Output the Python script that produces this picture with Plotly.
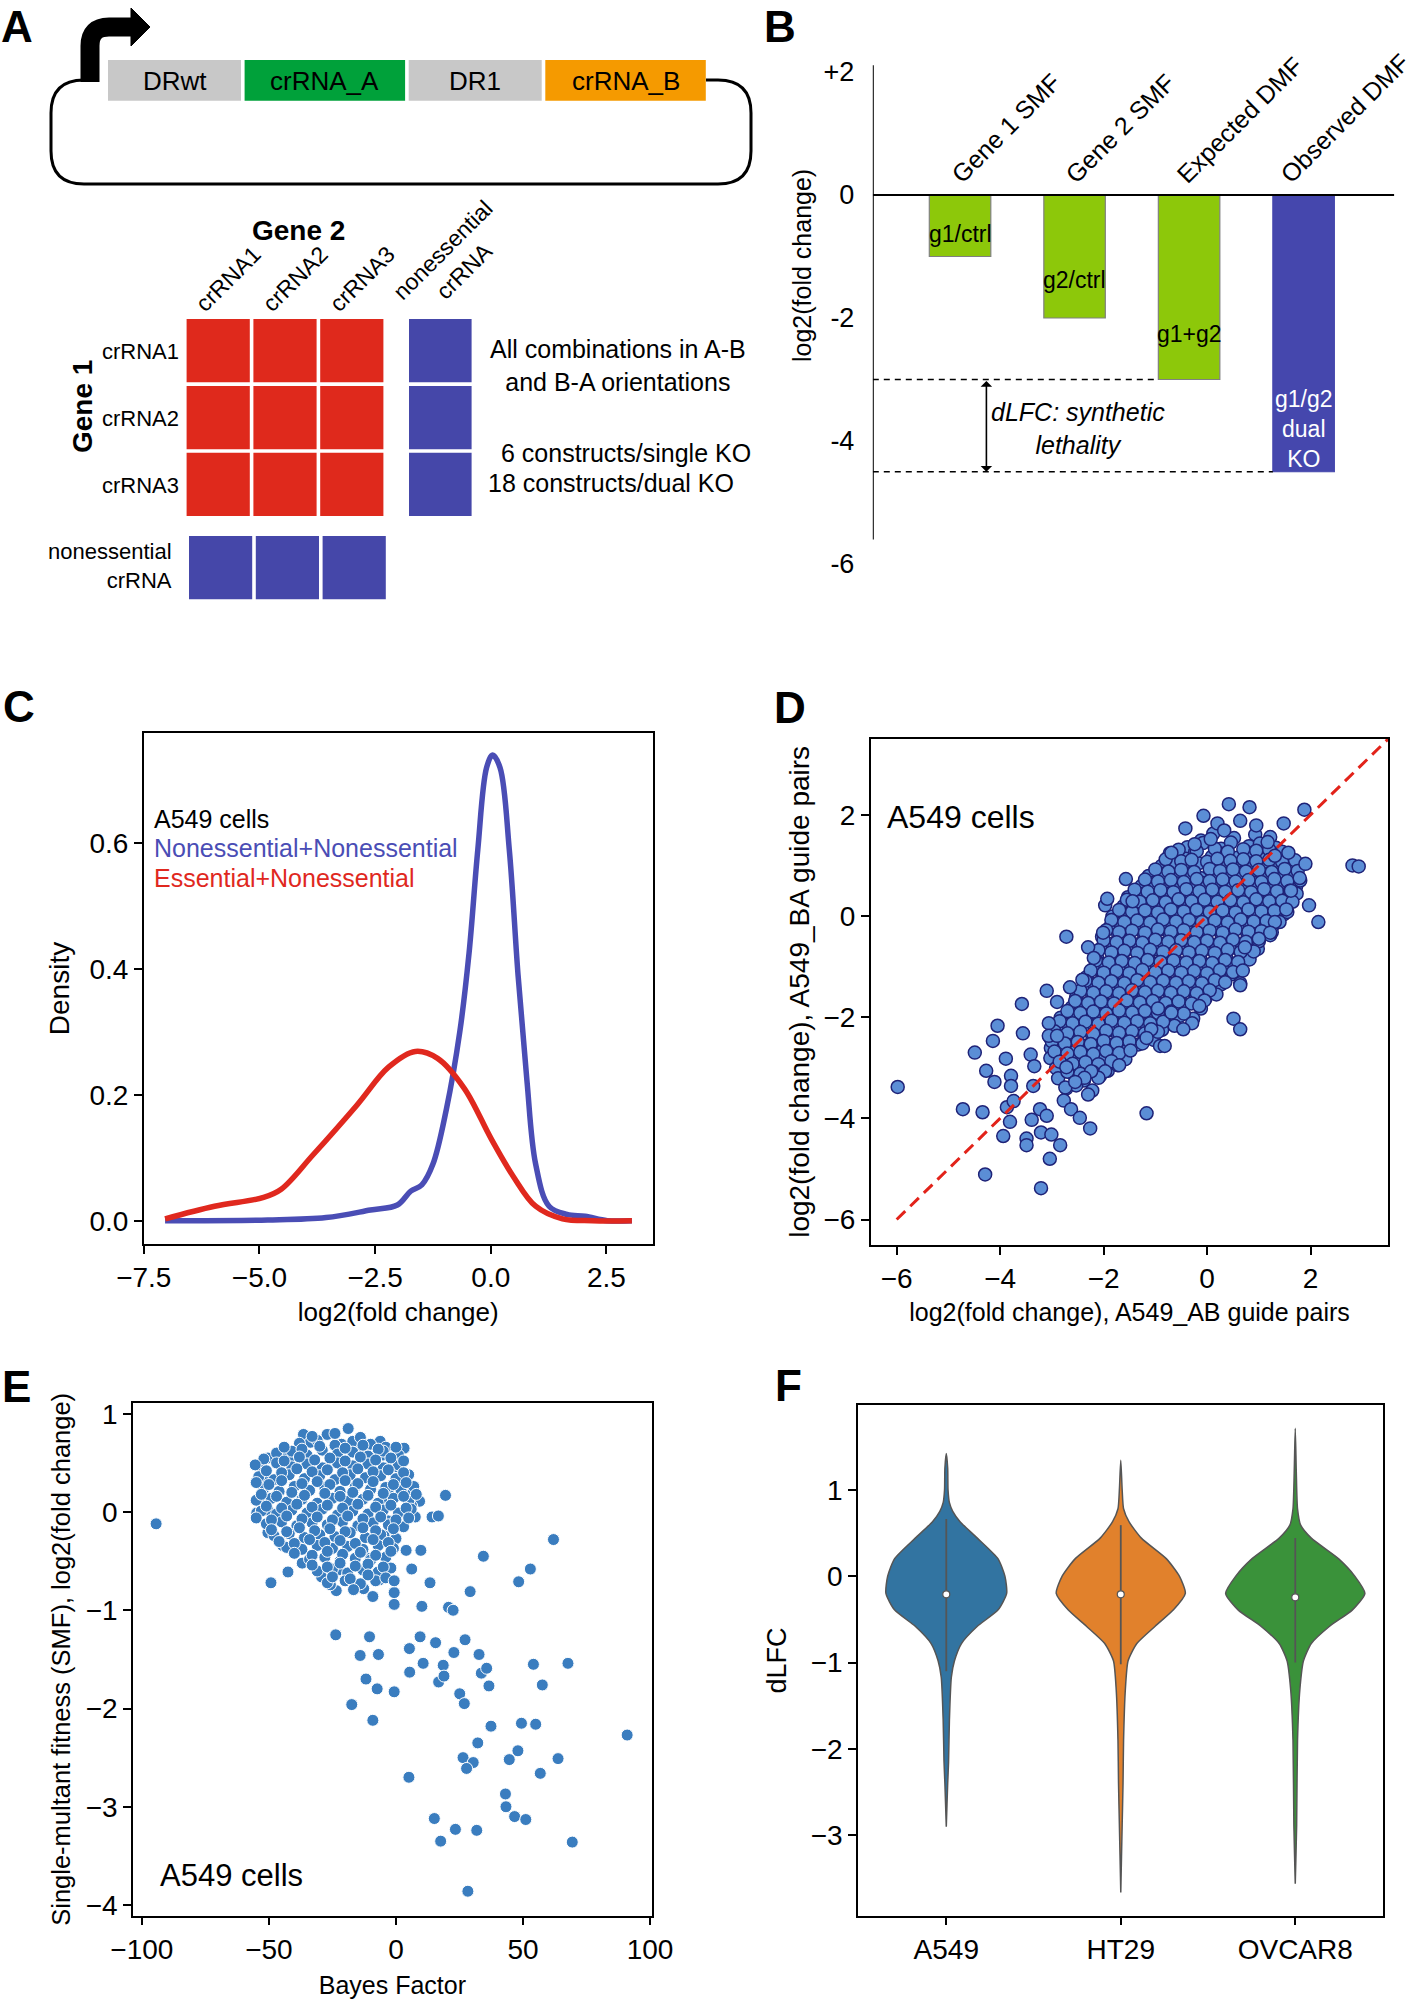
import plotly.graph_objects as go

W, H = 1418, 2001
FONT = "Liberation Sans"


def fx(p):
    return p / W


def fy(p):
    return 1 - p / H


# ---------------- data: panel A (schematic labels) ----------------
a_construct = ["DRwt", "crRNA_A", "DR1", "crRNA_B"]
a_construct_colors = ["#c8c8c8", "#00a13a", "#c8c8c8", "#f59a00"]
a_guides = ["crRNA1", "crRNA2", "crRNA3"]
a_ctrl = "nonessential<br>crRNA"

# ---------------- data: panel B ----------------
b_categories = ["Gene 1 SMF", "Gene 2 SMF", "Expected DMF", "Observed DMF"]
b_values = [-1.0, -2.0, -3.0, -4.5]
b_inner_labels = ["g1/ctrl", "g2/ctrl", "g1+g2", "g1/g2<br>dual<br>KO"]
b_tickvals = [2, 0, -2, -4, -6]
b_ticktext = ["+2", "0", "-2", "-4", "-6"]

# ---------------- data: panel C (density curves) ----------------
c_non_x = [-7.04, -4.82, -3.56, -2.6, -2.02, -1.73, -1.49, -1.25, -0.96, -0.67, -0.47, -0.28,
           -0.09, 0.04, 0.2, 0.40, 0.59, 0.78, 0.97, 1.26, 1.65, 2.04, 2.52, 3.05]
c_non_y = [0.0, 0.001, 0.005, 0.017, 0.025, 0.047, 0.057, 0.09, 0.177, 0.30, 0.425, 0.59,
           0.72, 0.74, 0.72, 0.59, 0.39, 0.224, 0.09, 0.023, 0.01, 0.007, 0.0, 0.0]
c_ess_x = [-7.04, -5.97, -4.91, -4.53, -3.85, -2.89, -2.21, -1.63, -1.15, -0.57, 0.01, 0.49,
           0.97, 1.55, 2.2, 3.05]
c_ess_y = [0.003, 0.023, 0.037, 0.05, 0.104, 0.184, 0.244, 0.269, 0.258, 0.21, 0.13, 0.07,
           0.023, 0.003, 0.0, 0.0]

# ---------------- data: panel D (AB vs BA guide pairs) ----------------
d_core_x = [0.12, 0.52, 0.93, -0.12, 1.22,
            -0.38, -0.08, 0.27, 0.46, 0.81, 1.02, 1.33,
            -0.72, -0.41, -0.23, 0.09, 0.28, 0.58, 0.77, 1.09, 1.27, 1.58,
            -0.88, -0.69, -0.37, -0.17, 0.14, 0.31, 0.63, 0.82, 1.13, 1.31, 1.63, 1.78,
            -1.13, -0.81, -0.63, -0.31, -0.13, 0.19, 0.37, 0.69, 0.87, 1.18, 1.36, 1.67,
            -1.27, -1.08, -0.77, -0.58, -0.26, -0.08, 0.23, 0.42, 0.73, 0.91, 1.23, 1.41, 1.72,
            -1.53, -1.22, -1.03, -0.71, -0.53, -0.22, -0.03, 0.28, 0.47, 0.78, 0.97, 1.28, 1.47, 1.73,
            -1.62, -1.43, -1.12, -0.93, -0.62, -0.43, -0.12, 0.07, 0.38, 0.57, 0.88, 1.07, 1.38, 1.52,
            -1.83, -1.52, -1.33, -1.02, -0.83, -0.52, -0.33, -0.02, 0.17, 0.48, 0.67, 0.98, 1.17, 1.48,
            -1.87, -1.68, -1.37, -1.18, -0.87, -0.68, -0.37, -0.18, 0.13, 0.32, 0.63, 0.82, 1.13, 1.27,
            -2.03, -1.72, -1.53, -1.22, -1.03, -0.72, -0.53, -0.22, -0.03, 0.28, 0.47, 0.78, 0.97, 1.22,
            -2.02, -1.83, -1.52, -1.33, -1.02, -0.83, -0.52, -0.33, -0.02, 0.17, 0.48, 0.67, 0.98,
            -2.13, -1.82, -1.63, -1.32, -1.13, -0.82, -0.63, -0.32, -0.13, 0.18, 0.37, 0.68, 0.82,
            -2.17, -1.98, -1.67, -1.48, -1.17, -0.98, -0.67, -0.48, -0.17, 0.02, 0.33, 0.52,
            -2.33, -2.02, -1.83, -1.52, -1.33, -1.02, -0.83, -0.52, -0.33, -0.02, 0.17, 0.48,
            -2.37, -2.18, -1.87, -1.68, -1.37, -1.18, -0.87, -0.68, -0.37, -0.18, 0.13, 0.27,
            -2.53, -2.22, -2.03, -1.72, -1.53, -1.22, -1.03, -0.72, -0.53, -0.22, -0.03, 0.18,
            -2.62, -2.43, -2.12, -1.93, -1.62, -1.43, -1.12, -0.93, -0.62, -0.43, -0.12,
            -2.83, -2.52, -2.33, -2.02, -1.83, -1.52, -1.33, -1.02, -0.83, -0.52, -0.27,
            -2.87, -2.68, -2.37, -2.18, -1.87, -1.68, -1.37, -1.18, -0.87, -0.63,
            -3.03, -2.72, -2.53, -2.22, -2.03, -1.72, -1.53, -1.22, -1.03,
            -3.02, -2.83, -2.52, -2.33, -2.02, -1.83, -1.52, -1.33,
            -3.03, -2.72, -2.53, -2.22, -2.03, -1.72, -1.58,
            -2.92, -2.73, -2.42, -2.23, -1.92, -1.73,
            -2.88, -2.57, -2.38, -2.07,
            -2.72, -2.53, -2.22]
d_core_y = [1.63, 1.54, 1.61, 1.49, 1.56,
            1.36, 1.44, 1.33, 1.45, 1.38, 1.43, 1.35,
            1.24, 1.13, 1.27, 1.17, 1.23, 1.15, 1.26, 1.19, 1.21, 1.12,
            0.99, 1.05, 0.93, 1.04, 0.96, 1.06, 0.94, 1.03, 0.97, 1.05, 0.95, 1.01,
            0.79, 0.84, 0.74, 0.85, 0.75, 0.83, 0.74, 0.86, 0.77, 0.83, 0.75, 0.81,
            0.59, 0.65, 0.54, 0.64, 0.55, 0.65, 0.55, 0.63, 0.56, 0.65, 0.54, 0.62, 0.58,
            0.37, 0.44, 0.35, 0.45, 0.34, 0.43, 0.37, 0.45, 0.35, 0.42, 0.34, 0.44, 0.36, 0.44,
            0.19, 0.24, 0.15, 0.25, 0.14, 0.22, 0.15, 0.25, 0.17, 0.24, 0.14, 0.22, 0.16, 0.25,
            -0.01, 0.05, -0.06, 0.03, -0.05, 0.06, -0.03, 0.05, -0.06, 0.03, -0.04, 0.05, -0.01, 0.03,
            -0.21, -0.15, -0.25, -0.16, -0.26, -0.15, -0.23, -0.14, -0.25, -0.17, -0.23, -0.15, -0.25, -0.19,
            -0.41, -0.35, -0.45, -0.36, -0.46, -0.35, -0.43, -0.34, -0.45, -0.37, -0.43, -0.35, -0.45, -0.38,
            -0.61, -0.55, -0.65, -0.56, -0.66, -0.55, -0.63, -0.54, -0.65, -0.57, -0.63, -0.55, -0.65,
            -0.81, -0.75, -0.85, -0.76, -0.86, -0.75, -0.83, -0.74, -0.85, -0.77, -0.83, -0.75, -0.86,
            -1.01, -0.95, -1.05, -0.96, -1.06, -0.95, -1.03, -0.94, -1.05, -0.97, -1.03, -0.95,
            -1.21, -1.15, -1.25, -1.16, -1.26, -1.15, -1.23, -1.14, -1.25, -1.17, -1.23, -1.15,
            -1.41, -1.35, -1.45, -1.36, -1.46, -1.35, -1.43, -1.34, -1.45, -1.37, -1.43, -1.35,
            -1.61, -1.55, -1.65, -1.56, -1.66, -1.55, -1.63, -1.54, -1.65, -1.57, -1.63, -1.55,
            -1.81, -1.75, -1.85, -1.76, -1.86, -1.75, -1.83, -1.74, -1.85, -1.77, -1.83,
            -2.01, -1.95, -2.05, -1.96, -2.06, -1.95, -2.03, -1.94, -2.05, -1.97, -2.03,
            -2.21, -2.15, -2.25, -2.16, -2.26, -2.15, -2.23, -2.14, -2.25, -2.17,
            -2.41, -2.35, -2.45, -2.36, -2.46, -2.35, -2.43, -2.34, -2.45,
            -2.61, -2.55, -2.65, -2.56, -2.66, -2.55, -2.63, -2.54,
            -2.81, -2.75, -2.85, -2.76, -2.86, -2.75, -2.83,
            -3.01, -2.95, -3.05, -2.96, -3.06, -2.95,
            -3.21, -3.15, -3.25, -3.16,
            -3.41, -3.35, -3.45]
d_fill_x = [-0.55, -0.2, 0.15, 0.4, 0.7, 0.95, 1.2, 1.45,
            -0.8, -0.5, -0.3, 0.0, 0.2, 0.45, 0.7, 0.95, 1.2, 1.45, 1.7,
            -1.0, -0.75, -0.5, -0.25, 0.05, 0.25, 0.5, 0.75, 1.0, 1.25, 1.5, 1.75,
            -1.2, -0.95, -0.7, -0.45, -0.2, 0.05, 0.3, 0.55, 0.8, 1.05, 1.3, 1.55, 1.8,
            -1.4, -1.15, -0.9, -0.65, -0.4, -0.15, 0.1, 0.35, 0.6, 0.85, 1.1, 1.35, 1.6,
            -1.55, -1.3, -1.05, -0.8, -0.55, -0.3, -0.05, 0.2, 0.45, 0.7, 0.95, 1.2, 1.45, 1.65,
            -1.7, -1.45, -1.2, -0.95, -0.7, -0.45, -0.2, 0.05, 0.3, 0.55, 0.8, 1.05, 1.3, 1.55,
            -1.85, -1.6, -1.35, -1.1, -0.85, -0.6, -0.35, -0.1, 0.15, 0.4, 0.65, 0.9, 1.15, 1.4,
            -1.95, -1.7, -1.45, -1.2, -0.95, -0.7, -0.45, -0.2, 0.05, 0.3, 0.55, 0.8, 1.05, 1.25,
            -2.0, -1.75, -1.5, -1.25, -1.0, -0.75, -0.5, -0.25, 0.0, 0.25, 0.5, 0.75, 1.0,
            -2.1, -1.85, -1.6, -1.35, -1.1, -0.85, -0.6, -0.35, -0.1, 0.15, 0.4, 0.65, 0.9,
            -2.15, -1.9, -1.65, -1.4, -1.15, -0.9, -0.65, -0.4, -0.15, 0.1, 0.35, 0.6,
            -2.25, -2.0, -1.75, -1.5, -1.25, -1.0, -0.75, -0.5, -0.25, 0.0, 0.25, 0.5,
            -2.35, -2.1, -1.85, -1.6, -1.35, -1.1, -0.85, -0.6, -0.35, -0.1, 0.15, 0.35,
            -2.45, -2.2, -1.95, -1.7, -1.45, -1.2, -0.95, -0.7, -0.45, -0.2, 0.05,
            -2.55, -2.3, -2.05, -1.8, -1.55, -1.3, -1.05, -0.8, -0.55, -0.3, -0.05,
            -2.7, -2.45, -2.2, -1.95, -1.7, -1.45, -1.2, -0.95, -0.7, -0.45,
            -2.85, -2.6, -2.35, -2.1, -1.85, -1.6, -1.35, -1.1, -0.85,
            -2.95, -2.7, -2.45, -2.2, -1.95, -1.7, -1.45, -1.2, -0.95,
            -3.0, -2.75, -2.5, -2.25, -2.0, -1.75, -1.5, -1.25,
            -2.95, -2.7, -2.45, -2.2, -1.95, -1.7,
            -2.85, -2.6, -2.35, -2.1, -1.85,
            -2.7, -2.45, -2.2]
d_fill_y = [1.31, 1.28, 1.33, 1.27, 1.32, 1.29, 1.31, 1.27,
            1.12, 1.08, 1.11, 1.07, 1.13, 1.09, 1.12, 1.08, 1.11, 1.07, 1.10,
            0.92, 0.88, 0.91, 0.87, 0.93, 0.89, 0.92, 0.88, 0.91, 0.87, 0.93, 0.89,
            0.72, 0.68, 0.71, 0.67, 0.73, 0.69, 0.72, 0.68, 0.71, 0.67, 0.73, 0.69, 0.70,
            0.52, 0.48, 0.51, 0.47, 0.53, 0.49, 0.52, 0.48, 0.51, 0.47, 0.53, 0.49, 0.50,
            0.32, 0.28, 0.31, 0.27, 0.33, 0.29, 0.32, 0.28, 0.31, 0.27, 0.33, 0.29, 0.30, 0.28,
            0.12, 0.08, 0.11, 0.07, 0.13, 0.09, 0.12, 0.08, 0.11, 0.07, 0.13, 0.09, 0.10, 0.08,
            -0.08, -0.12, -0.09, -0.13, -0.07, -0.11, -0.08, -0.12, -0.09, -0.13, -0.07, -0.11, -0.10, -0.12,
            -0.28, -0.32, -0.29, -0.33, -0.27, -0.31, -0.28, -0.32, -0.29, -0.33, -0.27, -0.31, -0.30, -0.32,
            -0.48, -0.52, -0.49, -0.53, -0.47, -0.51, -0.48, -0.52, -0.49, -0.53, -0.47, -0.51, -0.50,
            -0.68, -0.72, -0.69, -0.73, -0.67, -0.71, -0.68, -0.72, -0.69, -0.73, -0.67, -0.71, -0.70,
            -0.88, -0.92, -0.89, -0.93, -0.87, -0.91, -0.88, -0.92, -0.89, -0.93, -0.87, -0.91,
            -1.08, -1.12, -1.09, -1.13, -1.07, -1.11, -1.08, -1.12, -1.09, -1.13, -1.07, -1.11,
            -1.28, -1.32, -1.29, -1.33, -1.27, -1.31, -1.28, -1.32, -1.29, -1.33, -1.27, -1.31,
            -1.48, -1.52, -1.49, -1.53, -1.47, -1.51, -1.48, -1.52, -1.49, -1.53, -1.47,
            -1.68, -1.72, -1.69, -1.73, -1.67, -1.71, -1.68, -1.72, -1.69, -1.73, -1.67,
            -1.88, -1.92, -1.89, -1.93, -1.87, -1.91, -1.88, -1.92, -1.89, -1.93,
            -2.08, -2.12, -2.09, -2.13, -2.07, -2.11, -2.08, -2.12, -2.09,
            -2.28, -2.32, -2.29, -2.33, -2.27, -2.31, -2.28, -2.32, -2.29,
            -2.48, -2.52, -2.49, -2.53, -2.47, -2.51, -2.48, -2.52,
            -2.68, -2.72, -2.69, -2.73, -2.67, -2.71,
            -2.88, -2.92, -2.89, -2.93, -2.87,
            -3.08, -3.12, -3.09]
d_out_x = [-5.98, -4.72, -4.34, -4.29, -3.21, -4.49, -4.27, -4.11, -4.05, -4.14,
           -3.89, -3.79, -3.79, -3.87, -3.74, -3.81, -3.94, -3.49, -3.49, -3.39,
           -3.23, -3.10, -3.21, -3.01, -3.04, -2.84, -3.58, -3.56, -3.41, -3.34,
           -3.36, -3.10, -2.90, -3.06, -3.06, -2.90, -2.72, -2.65, -2.41, -2.30,
           -2.19, -2.01, -1.97, -1.93, -1.57, -1.44, -2.72, -2.74, -2.77, -2.63,
           -2.46, -2.26, -2.30, -1.17, -0.91, -0.82, 0.51, 0.64, 0.64, -0.07,
           0.42, 0.82, 1.88, 1.48, -0.42, 0.20, 0.64, 0.95, 0.33, 2.81,
           2.93, 1.90, 1.97, 2.15, -0.24, -0.69, 0.07, 1.17, 1.31, 1.57,
           1.79, 1.62, 1.53, 1.31, 1.22, 1.00, 0.73, 0.69, 0.64, -0.29,
           -0.46, -0.15, -0.69, -0.95, -1.08, -1.17, -1.48, -1.70, -1.97, -2.10,
           -2.24, -2.37, -2.55]
d_out_y = [-3.38, -3.82, -3.88, -5.11, -5.38, -2.70, -3.06, -3.28, -2.17, -2.47,
           -2.82, -3.16, -3.36, -3.78, -3.66, -4.07, -4.35, -4.40, -4.53, -4.03,
           -3.82, -3.95, -4.28, -4.32, -4.80, -4.53, -1.74, -2.32, -2.74, -2.97,
           -3.36, -1.48, -1.70, -2.12, -2.37, -2.37, -0.41, -1.41, -1.26, -0.62,
           -0.83, -0.33, 0.21, 0.34, 0.73, 0.29, -2.99, -3.39, -3.65, -3.82,
           -3.99, -4.20, -3.53, -3.90, -2.57, -2.57, -2.03, -2.24, -1.33, 1.98,
           2.21, 2.15, 2.10, 1.83, 1.73, 1.83, 1.88, 1.79, 1.69, 1.00,
           0.98, 1.03, 0.21, -0.12, 1.42, 1.25, 1.52, 1.46, 1.19, 1.25,
           0.75, 0.50, 0.13, -0.12, -0.33, -0.45, -0.62, -1.08, -1.37, -2.12,
           -2.24, -1.78, -1.91, -1.83, -2.24, -2.41, -2.66, -2.95, -3.07, -3.20,
           -3.07, -3.20, -3.28]
d_identity = [-6.0, 3.5]

# ---------------- data: panel E (Bayes factor vs SMF) ----------------
e_out_x = [-94.4, -49.2, -42.5, -55.4, 19.5, 14.2, 16.7, 4.0, 9.8, 6.2,
           13.4, 62.0, 34.4, 52.9, 48.3, 29.2, 10.2, 20.7, 22.5, -0.7,
           -0.7, -0.7, -9.1, -16.7, -23.7, -10.4, -14.1, -6.9, -11.8, -7.4,
           -17.4, -9.1, -0.7, 5.3, 5.4, 9.5, 10.7, 15.6, 18.6, 16.8,
           18.9, 22.8, 27.2, 25.1, 26.9, 32.7, 33.6, 35.7, 36.6, 37.4,
           32.2, 49.4, 55.0, 54.1, 57.6, 67.7, 91.0, 48.0, 44.6, 26.4,
           30.4, 27.8, 56.8, 63.8, 5.1, 43.1, 43.3, 46.7, 51.1, 15.1,
           23.4, 31.8, 17.6, 69.4, 28.3]
e_out_y = [-0.12, -0.72, -0.61, 0.48, 0.17, -0.05, -0.04, -0.39, -0.39, -0.58,
           -0.72, -0.28, -0.45, -0.58, -0.71, -0.81, -0.96, -0.97, -1.00, -0.94,
           -0.82, -0.70, -0.86, -0.79, -1.25, -1.27, -1.46, -1.45, -1.70, -1.80,
           -1.96, -2.12, -1.83, -1.39, -1.63, -1.27, -1.54, -1.33, -1.56, -1.73,
           -1.67, -1.43, -1.30, -1.85, -1.95, -1.45, -1.64, -1.59, -1.77, -2.18,
           -2.35, -2.15, -2.16, -1.55, -1.76, -1.54, -2.27, -2.43, -2.52, -2.50,
           -2.55, -2.61, -2.66, -2.51, -2.70, -2.87, -3.00, -3.10, -3.13, -3.12,
           -3.23, -3.24, -3.35, -3.36, -3.86]
e_clu_x = [-36.4, -27.1, -18.8, -6.2, 3.2, -33.7, -21.4, -14.4, -50.4, -43.4,
           -40.4, -5.1, 0.5, 2.6, -54.8, -50.4, -52.6, -50.8, -50.4, -44.6,
           -37.6, -36.9, -29.3, -22.8, -23.5, -25.8, -12.7, -6.5, -10.1, -4.7,
           6.7, 9.3, 7.6, 6.2, -3.0, -2.5, -3.9,
           -38, -31, -24, -17, -10, -4,
           -47, -41, -35, -29, -23, -17, -11, -5, 1,
           -53, -47, -41, -35, -29, -23, -17, -11, -5, 1,
           -54, -48, -42, -36, -30, -24, -18, -12, -6, 0, 5,
           -52, -46, -40, -34, -28, -22, -16, -10, -4, 2, 7,
           -55, -49, -43, -37, -31, -25, -19, -13, -7, -1, 5,
           -53, -47, -41, -35, -29, -23, -17, -11, -5, 1, 6,
           -51, -45, -39, -33, -27, -21, -15, -9, -3, 3,
           -48, -42, -36, -30, -24, -18, -12, -6, 0,
           -43, -37, -31, -25, -19, -13, -7, -1,
           -34, -28, -22, -16, -10, -4,
           -31, -25, -19, -13, -7, -2,
           -27, -20, -14, -8,
           -33, -24, -14,
           -44, -37, -30, -20, -13, -7, 0,
           -52, -44, -38, -32, -26, -20, -14, -8, -2, 3,
           -51, -45, -39, -33, -27, -21, -15, -9, -3, 3,
           -55, -50, -45, -37, -31, -26, -20, -15, -9, -1, 4,
           -53, -47, -41, -36, -28, -22, -17, -11, -5, 3, 8,
           -51, -45, -39, -33, -27, -21, -15, -8, -2, 4,
           -55, -49, -43, -37, -31, -25, -19, -13, -6, 0, 5,
           -49, -43, -38, -32, -26, -20, -13, -8, -1,
           -46, -40, -34, -28, -22, -16, -9, -3,
           -40, -33, -27, -21, -14, -8, -2,
           -33, -27, -22, -16, -11, -5,
           -25, -18, -11, -4]
e_clu_y = [0.79, 0.79, 0.85, 0.72, 0.65, 0.71, 0.69, 0.64, 0.55, 0.55,
           0.57, 0.58, 0.46, 0.51, -0.01, 0.02, 0.10, 0.33, -0.21, -0.34,
           -0.31, -0.52, -0.66, -0.59, -0.80, -0.74, -0.78, -0.69, -0.47, -0.24,
           0.21, 0.11, -0.05, 0.06, -0.09, 0.25, 0.14,
           0.70, 0.73, 0.68, 0.72, 0.69, 0.66,
           0.60, 0.62, 0.58, 0.63, 0.59, 0.61, 0.57, 0.62, 0.58,
           0.47, 0.50, 0.46, 0.49, 0.45, 0.50, 0.47, 0.49, 0.45, 0.48,
           0.36, 0.33, 0.38, 0.34, 0.37, 0.33, 0.38, 0.35, 0.37, 0.34, 0.38,
           0.24, 0.21, 0.26, 0.22, 0.25, 0.21, 0.26, 0.23, 0.25, 0.22, 0.26,
           0.12, 0.14, 0.10, 0.13, 0.09, 0.14, 0.11, 0.13, 0.09, 0.14, 0.11,
           0.01, -0.02, 0.02, -0.01, 0.03, -0.03, 0.01, -0.02, 0.02, -0.01, 0.03,
           -0.12, -0.10, -0.14, -0.11, -0.13, -0.10, -0.14, -0.11, -0.13, -0.15,
           -0.24, -0.22, -0.26, -0.23, -0.25, -0.21, -0.26, -0.23, -0.27,
           -0.36, -0.38, -0.34, -0.37, -0.35, -0.38, -0.34, -0.37,
           -0.48, -0.46, -0.50, -0.47, -0.49, -0.46,
           -0.60, -0.58, -0.62, -0.59, -0.61, -0.57,
           -0.72, -0.70, -0.73, -0.70,
           0.77, 0.80, 0.76,
           0.66, 0.64, 0.67, 0.65, 0.68, 0.64, 0.66,
           0.54, 0.52, 0.56, 0.53, 0.55, 0.52, 0.56, 0.53, 0.55, 0.52,
           0.42, 0.40, 0.44, 0.41, 0.43, 0.40, 0.44, 0.41, 0.43, 0.40,
           0.30, 0.28, 0.32, 0.29, 0.31, 0.28, 0.32, 0.29, 0.31, 0.28, 0.30,
           0.18, 0.16, 0.20, 0.17, 0.19, 0.16, 0.20, 0.17, 0.19, 0.16, 0.18,
           0.06, 0.04, 0.08, 0.05, 0.07, 0.04, 0.08, 0.05, 0.07, 0.04,
           -0.06, -0.08, -0.04, -0.07, -0.05, -0.08, -0.04, -0.07, -0.05, -0.08, -0.06,
           -0.18, -0.20, -0.16, -0.19, -0.17, -0.20, -0.16, -0.19, -0.17,
           -0.30, -0.32, -0.28, -0.31, -0.29, -0.32, -0.28, -0.31,
           -0.42, -0.44, -0.40, -0.43, -0.41, -0.44, -0.40,
           -0.54, -0.56, -0.52, -0.55, -0.53, -0.56,
           -0.66, -0.68, -0.64, -0.67]

# ---------------- data: panel F (violins, profile) ----------------
f_lines = ["A549", "HT29", "OVCAR8"]
f_colors = ["#3274a1", "#e1812c", "#3a923a"]
f_prof_y = [
    [1.42, 1.25, 1.0, 0.85, 0.75, 0.63, 0.44, 0.2, 0.0, -0.2, -0.39, -0.58, -0.78, -0.98, -1.17, -1.66, -2.15, -2.4, -2.9],
    [1.34, 1.0, 0.78, 0.63, 0.44, 0.2, 0.0, -0.2, -0.39, -0.58, -0.78, -0.98, -1.32, -1.9, -2.39, -2.88, -3.66],
    [1.71, 1.2, 0.78, 0.59, 0.44, 0.2, 0.0, -0.2, -0.39, -0.58, -0.78, -0.98, -1.32, -1.9, -2.88, -3.56],
]
f_prof_w = [
    [0.0, 0.008, 0.010, 0.018, 0.037, 0.079, 0.178, 0.297, 0.336, 0.346, 0.297, 0.178, 0.087, 0.047, 0.029, 0.018, 0.013, 0.008, 0.0],
    [0.0, 0.008, 0.016, 0.047, 0.118, 0.262, 0.336, 0.370, 0.302, 0.197, 0.092, 0.042, 0.026, 0.016, 0.013, 0.008, 0.0],
    [0.0, 0.006, 0.013, 0.031, 0.092, 0.249, 0.341, 0.399, 0.328, 0.197, 0.092, 0.047, 0.026, 0.013, 0.008, 0.0],
]
f_median = [-0.21, -0.21, -0.245]
f_whisk_hi = [0.66, 0.59, 0.44]
f_whisk_lo = [-1.10, -1.02, -1.00]

# =====================================================================
fig = go.Figure()
annotations = []
shapes = []


def ann(text, x, y, size=24, xanchor="center", yanchor="middle", angle=0, color="black",
        align="center", xref="paper", yref="paper", **kw):
    if xref == "paper":
        x = fx(x)
    if yref == "paper":
        y = fy(y)
    annotations.append(dict(text=text, x=x, y=y, xref=xref, yref=yref, showarrow=False,
                            xanchor=xanchor, yanchor=yanchor, textangle=angle, align=align,
                            font=dict(size=size, color=color, family=FONT), **kw))


def P(x, y):
    return f"{fx(x):.5f},{fy(y):.5f}"


# ---------------- panel letters ----------------
for letter, lx, ly in [("A", -1, 0), ("B", 762, 0), ("C", 1, 680), ("D", 772, 681),
                       ("E", 0, 1360), ("F", 773, 1359)]:
    ann(f"<b>{letter}</b>", lx, ly, size=44, xanchor="left", yanchor="top")

# ---------------- panel A: construct ----------------
plasmid = (f"M {P(92, 80)} L {P(84, 80)} Q {P(51, 80)} {P(51, 113)} L {P(51, 151)} "
           f"Q {P(51, 184)} {P(84, 184)} L {P(718, 184)} Q {P(751, 184)} {P(751, 151)} "
           f"L {P(751, 113)} Q {P(751, 80)} {P(718, 80)} L {P(706, 80)}")
shapes.append(dict(type="path", xref="paper", yref="paper", path=plasmid,
                   line=dict(color="black", width=3)))
stem = f"M {P(90, 82)} L {P(90, 46)} Q {P(90, 27)} {P(109, 27)} L {P(134, 27)}"
shapes.append(dict(type="path", xref="paper", yref="paper", path=stem,
                   line=dict(color="black", width=19)))
head = f"M {P(131, 8)} L {P(150, 27)} L {P(131, 46)} Z"
shapes.append(dict(type="path", xref="paper", yref="paper", path=head,
                   fillcolor="black", line=dict(color="black", width=1)))

box_left, box_gap = 108, 3.6
box_widths = [133, 160.5, 133, 160.5]
cx = box_left
for name, col, bw in zip(a_construct, a_construct_colors, box_widths):
    shapes.append(dict(type="rect", xref="paper", yref="paper", x0=fx(cx), x1=fx(cx + bw),
                       y0=fy(100.7), y1=fy(60), fillcolor=col, line=dict(width=0)))
    ann(name, cx + bw / 2, 81, size=26)
    cx += bw + box_gap

# ---------------- panel A: grid ----------------
cell_w, cell_h, gap = 63.2, 63.3, 3.6
grid_x0, grid_y0 = 186.6, 319
RED, BLUE = "#df291c", "#4547a9"
for i, _ in enumerate(a_guides):
    for j, _ in enumerate(a_guides):
        x0 = grid_x0 + j * (cell_w + gap)
        y0 = grid_y0 + i * (cell_h + gap)
        shapes.append(dict(type="rect", xref="paper", yref="paper", x0=fx(x0), x1=fx(x0 + cell_w),
                           y0=fy(y0 + cell_h), y1=fy(y0), fillcolor=RED, line=dict(width=0)))
    y0 = grid_y0 + i * (cell_h + gap)
    shapes.append(dict(type="rect", xref="paper", yref="paper", x0=fx(409), x1=fx(471.6),
                       y0=fy(y0 + cell_h), y1=fy(y0), fillcolor=BLUE, line=dict(width=0)))
    x0 = 189 + i * (cell_w + gap)
    shapes.append(dict(type="rect", xref="paper", yref="paper", x0=fx(x0), x1=fx(x0 + cell_w),
                       y0=fy(599.3), y1=fy(536), fillcolor=BLUE, line=dict(width=0)))

ann("<b>Gene 2</b>", 298.5, 231, size=28)
ann("<b>Gene 1</b>", 82, 407, size=28, angle=-90)
for k, g in enumerate(a_guides):
    ann(g, 228 + k * 67, 279, size=23, angle=-45)
    ann(g, 181, 352 + k * 66.5, size=22, xanchor="right")
ann(a_ctrl, 453, 261, size=23, angle=-45)
ann(a_ctrl, 174, 566, size=22, xanchor="right", align="right")
ann("All combinations in A-B<br>and B-A orientations", 618, 365, size=25)
ann("6 constructs/single KO", 626, 453, size=25)
ann("18 constructs/dual KO", 611, 483, size=25)

# ---------------- panel B ----------------
b_x = list(range(len(b_values)))
bar_w = 0.537
fig.add_trace(go.Bar(x=b_x, y=b_values, width=bar_w, xaxis="x", yaxis="y", showlegend=False,
                     marker=dict(color=["#8dc80a", "#8dc80a", "#8dc80a", "#4547ad"],
                                 line=dict(color=["#808080", "#808080", "#808080", "#4547ad"], width=1.2))))
bx_lo, bx_hi = -0.762, 3.792
shapes.append(dict(type="line", xref="x", yref="y", x0=bx_lo, x1=bx_hi, y0=0, y1=0,
                   line=dict(color="black", width=2)))
shapes.append(dict(type="line", xref="x", yref="y", x0=bx_lo, x1=bx_lo, y0=-5.6, y1=2.11,
                   line=dict(color="black", width=2)))
shapes.append(dict(type="line", xref="x", yref="y", x0=bx_lo, x1=2 - bar_w / 2,
                   y0=b_values[2], y1=b_values[2], line=dict(color="black", width=1.6, dash="6px,5px")))
shapes.append(dict(type="line", xref="x", yref="y", x0=bx_lo, x1=3 - bar_w / 2,
                   y0=b_values[3], y1=b_values[3], line=dict(color="black", width=1.6, dash="6px,5px")))
annotations.append(dict(x=0.23, y=b_values[3], ax=0.23, ay=b_values[2], xref="x", yref="y",
                        axref="x", ayref="y", text="", showarrow=True, arrowhead=1,
                        arrowside="end+start", arrowwidth=1.6, arrowsize=1.2, arrowcolor="black"))
ann("<i>dLFC: synthetic<br>lethality</i>", 1.03, -3.80, size=25, xref="x", yref="y")
label_y = [-0.63, -1.38, -2.26, -3.80]
for k, (lab, ly) in enumerate(zip(b_inner_labels, label_y)):
    ann(lab, k, ly, size=23, xref="x", yref="y", color="white" if k == 3 else "black")
head_x = [0.40, 1.40, 2.44, 3.36]
head_y = [1.09, 1.09, 1.22, 1.25]
for cat, hx, hy in zip(b_categories, head_x, head_y):
    ann(cat, hx, hy, size=25, angle=-45, xref="x", yref="y")
ann("log2(fold change)", 802, 266, size=25, angle=-90)

# ---------------- panel C ----------------
fig.add_trace(go.Scatter(x=c_non_x, y=c_non_y, mode="lines", line=dict(color="#4a4db5", width=5.5, shape="spline"),
                         xaxis="x2", yaxis="y2", showlegend=False))
fig.add_trace(go.Scatter(x=c_ess_x, y=c_ess_y, mode="lines", line=dict(color="#e0281e", width=5.5, shape="spline"),
                         xaxis="x2", yaxis="y2", showlegend=False))
ann("A549 cells", -7.33, 0.639, size=25, xanchor="left", xref="x2", yref="y2")
ann("Nonessential+Nonessential", -7.33, 0.592, size=25, xanchor="left", xref="x2", yref="y2", color="#4a4db5")
ann("Essential+Nonessential", -7.33, 0.544, size=25, xanchor="left", xref="x2", yref="y2", color="#e0281e")

# ---------------- panel D ----------------
fig.add_trace(go.Scatter(x=d_core_x + d_fill_x + d_out_x, y=d_core_y + d_fill_y + d_out_y, mode="markers",
                         marker=dict(size=13, color="#5b8ed6", line=dict(color="#1f2378", width=1.5)),
                         xaxis="x3", yaxis="y3", showlegend=False))
fig.add_trace(go.Scatter(x=d_identity, y=d_identity, mode="lines",
                         line=dict(color="#e2231a", width=3, dash="12px,7px"),
                         xaxis="x3", yaxis="y3", showlegend=False))
ann("A549 cells", -6.23, 1.96, size=32, xanchor="left", xref="x3", yref="y3")

# ---------------- panel E ----------------
fig.add_trace(go.Scatter(x=e_clu_x + e_out_x, y=e_clu_y + e_out_y, mode="markers",
                         marker=dict(size=12, color="#3a7dbf", line=dict(color="white", width=1)),
                         xaxis="x4", yaxis="y4", showlegend=False))
ann("A549 cells", -93.5, -3.70, size=31, xanchor="left", xref="x4", yref="y4")

# ---------------- panel F ----------------
for k, (py, pw, col) in enumerate(zip(f_prof_y, f_prof_w, f_colors)):
    xs = [k + w for w in pw] + [k - w for w in reversed(pw)]
    ys = list(py) + list(reversed(py))
    fig.add_trace(go.Scatter(x=xs, y=ys, mode="lines", fill="toself", fillcolor=col,
                             line=dict(color="#555555", width=1.5, shape="spline", smoothing=0.6),
                             xaxis="x5", yaxis="y5", showlegend=False))
    fig.add_trace(go.Scatter(x=[k, k], y=[f_whisk_lo[k], f_whisk_hi[k]], mode="lines",
                             line=dict(color="#555555", width=1.8), xaxis="x5", yaxis="y5", showlegend=False))
fig.add_trace(go.Scatter(x=list(range(len(f_lines))), y=f_median, mode="markers",
                         marker=dict(size=7, color="white", line=dict(color="#555555", width=1.2)),
                         xaxis="x5", yaxis="y5", showlegend=False))

# ---------------- axes ----------------
common = dict(showgrid=False, zeroline=False, showline=True, linecolor="black", linewidth=1.6,
              mirror=True, ticks="outside", ticklen=8, tickwidth=1.6, tickcolor="black",
              automargin=False, tickfont=dict(size=28, family=FONT, color="black"))


def tf(size=25):
    return dict(size=size, family=FONT, color="black")


B_PX_PER_UNIT = 61.5
B_ZERO_PX = 195
b_range = [-6.3, 2.5]

layout_axes = dict(
    xaxis=dict(domain=[fx(872.8), fx(1394.3)], range=[bx_lo, bx_hi], visible=False, anchor="y",
               automargin=False),
    yaxis=dict(domain=[fy(B_ZERO_PX - b_range[0] * B_PX_PER_UNIT), fy(B_ZERO_PX - b_range[1] * B_PX_PER_UNIT)],
               range=b_range, anchor="x", showgrid=False, zeroline=False,
               showline=False, tickvals=b_tickvals, ticktext=b_ticktext, ticks="outside", ticklen=12,
               tickcolor="rgba(0,0,0,0)", automargin=False,
               tickfont=dict(size=27, family=FONT, color="black")),
    xaxis2=dict(common, domain=[fx(143.8), fx(652.7)], range=[-7.5, 3.5], anchor="y2",
                tickvals=[-7.5, -5, -2.5, 0, 2.5], tickformat=".1f",
                title=dict(text="log2(fold change)", font=tf(26), standoff=10)),
    yaxis2=dict(common, domain=[fy(1244), fy(733)], range=[-0.037, 0.775], anchor="x2",
                tickvals=[0, 0.2, 0.4, 0.6], tickformat=".1f",
                title=dict(text="Density", font=tf(28), standoff=12)),
    xaxis3=dict(common, domain=[fx(870.8), fx(1388.2)], range=[-6.5, 3.5], anchor="y3",
                tickvals=[-6, -4, -2, 0, 2],
                title=dict(text="log2(fold change), A549_AB guide pairs", font=tf(25), standoff=10)),
    yaxis3=dict(common, domain=[fy(1244.8), fy(738.9)], range=[-6.5, 3.5], anchor="x3",
                tickvals=[-6, -4, -2, 0, 2],
                title=dict(text="log2(fold change), A549_BA guide pairs", font=tf(28), standoff=6)),
    xaxis4=dict(common, domain=[fx(133), fx(651.8)], range=[-103.5, 100.7], anchor="y4",
                tickvals=[-100, -50, 0, 50, 100], title=dict(text="Bayes Factor", font=tf(25), standoff=13)),
    yaxis4=dict(common, domain=[fy(1915.5), fy(1403.2)], range=[-4.107, 1.108], anchor="x4",
                tickvals=[-4, -3, -2, -1, 0, 1],
                title=dict(text="Single-multant fitness (SMF), log2(fold change)", font=tf(25.5), standoff=8)),
    xaxis5=dict(common, domain=[fx(858), fx(1383.2)], range=[-0.506, 2.504], anchor="y5",
                tickvals=list(range(len(f_lines))), ticktext=f_lines),
    yaxis5=dict(common, domain=[fy(1915.5), fy(1405.3)], range=[-3.927, 1.977], anchor="x5",
                tickvals=[-3, -2, -1, 0, 1], title=dict(text="dLFC", font=tf(27), standoff=16)),
)

fig.update_layout(
    width=W, height=H, margin=dict(l=0, r=0, t=0, b=0, pad=0),
    paper_bgcolor="white", plot_bgcolor="white",
    font=dict(family=FONT, size=24, color="black"),
    showlegend=False, annotations=annotations, shapes=shapes,
    **layout_axes,
)

fig.write_html("out.html", config={"displayModeBar": False},
               post_script="document.body.style.margin='0';document.body.style.overflow='hidden';")
